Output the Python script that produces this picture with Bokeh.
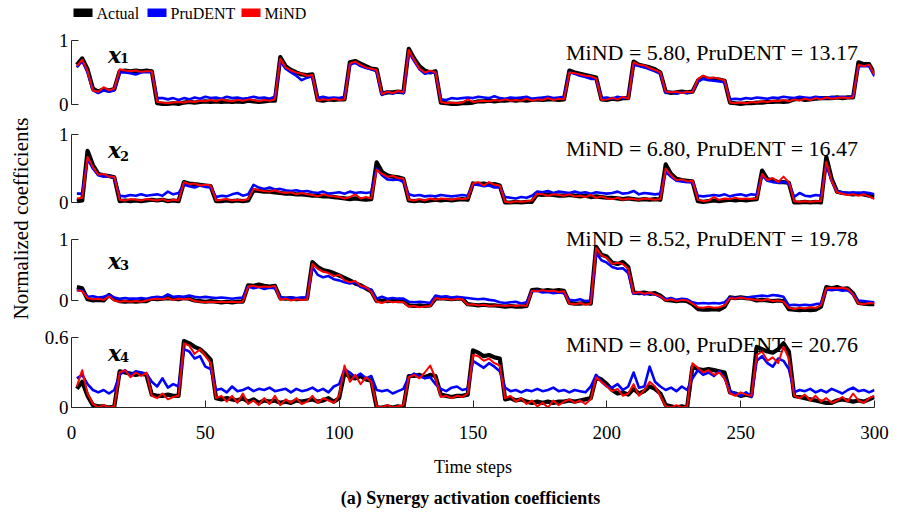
import math
from bokeh.plotting import figure
from bokeh.layouts import row, column
from bokeh.models import Range1d, FixedTicker, Label, BoxAnnotation, ColumnDataSource
from bokeh.embed import file_html
from bokeh.resources import INLINE

# ---------------- data ----------------
time_steps = list(range(2, 301, 2))

actual_1 = [0.62, 0.72, 0.55, 0.25, 0.20, 0.24, 0.22, 0.24, 0.52, 0.53,
            0.52, 0.53, 0.52, 0.53, 0.52, 0.02, 0.01, 0.01, 0.02, 0.01,
            0.03, 0.04, 0.03, 0.04, 0.05, 0.04, 0.05, 0.04, 0.05, 0.04,
            0.05, 0.04, 0.06, 0.05, 0.04, 0.05, 0.06, 0.06, 0.74, 0.60,
            0.54, 0.50, 0.47, 0.46, 0.47, 0.07, 0.06, 0.08, 0.07, 0.08,
            0.08, 0.66, 0.68, 0.64, 0.60, 0.56, 0.55, 0.17, 0.19, 0.19,
            0.20, 0.19, 0.87, 0.72, 0.60, 0.53, 0.50, 0.52, 0.03, 0.02,
            0.01, 0.01, 0.02, 0.02, 0.03, 0.05, 0.05, 0.06, 0.05, 0.06,
            0.06, 0.07, 0.06, 0.07, 0.06, 0.07, 0.08, 0.07, 0.08, 0.08,
            0.07, 0.08, 0.53, 0.50, 0.48, 0.46, 0.44, 0.42, 0.08, 0.07,
            0.09, 0.08, 0.10, 0.10, 0.67, 0.62, 0.60, 0.58, 0.55, 0.50,
            0.20, 0.18, 0.19, 0.20, 0.19, 0.20, 0.37, 0.43, 0.40, 0.40,
            0.39, 0.37, 0.03, 0.02, 0.01, 0.02, 0.02, 0.03, 0.03, 0.04,
            0.04, 0.05, 0.04, 0.05, 0.08, 0.09, 0.07, 0.08, 0.09, 0.10,
            0.10, 0.10, 0.11, 0.10, 0.11, 0.11, 0.66, 0.63, 0.63, 0.48]
prudent_1 = [0.58, 0.68, 0.50, 0.22, 0.18, 0.22, 0.20, 0.22, 0.50, 0.50,
             0.49, 0.47, 0.50, 0.51, 0.50, 0.10, 0.10, 0.08, 0.10, 0.07,
             0.10, 0.08, 0.11, 0.09, 0.12, 0.10, 0.11, 0.09, 0.12, 0.10,
             0.11, 0.09, 0.10, 0.12, 0.10, 0.11, 0.09, 0.12, 0.68, 0.56,
             0.50, 0.45, 0.38, 0.42, 0.44, 0.10, 0.12, 0.10, 0.11, 0.10,
             0.12, 0.62, 0.65, 0.60, 0.57, 0.55, 0.52, 0.15, 0.20, 0.17,
             0.20, 0.18, 0.82, 0.68, 0.55, 0.48, 0.50, 0.50, 0.08, 0.07,
             0.10, 0.09, 0.10, 0.11, 0.10, 0.12, 0.11, 0.10, 0.13, 0.10,
             0.09, 0.11, 0.10, 0.11, 0.12, 0.09, 0.10, 0.11, 0.12, 0.10,
             0.11, 0.12, 0.50, 0.48, 0.45, 0.43, 0.40, 0.40, 0.10, 0.11,
             0.09, 0.12, 0.10, 0.11, 0.62, 0.60, 0.58, 0.55, 0.52, 0.48,
             0.18, 0.20, 0.17, 0.19, 0.18, 0.20, 0.36, 0.40, 0.38, 0.37,
             0.36, 0.35, 0.08, 0.09, 0.08, 0.10, 0.09, 0.11, 0.10, 0.09,
             0.11, 0.10, 0.12, 0.11, 0.10, 0.12, 0.11, 0.10, 0.12, 0.11,
             0.10, 0.12, 0.11, 0.12, 0.11, 0.12, 0.60, 0.60, 0.60, 0.44]
mind_1 = [0.60, 0.70, 0.52, 0.22, 0.20, 0.27, 0.22, 0.25, 0.55, 0.53,
          0.52, 0.53, 0.51, 0.52, 0.52, 0.04, 0.03, 0.02, 0.03, 0.04,
          0.03, 0.05, 0.04, 0.06, 0.05, 0.07, 0.05, 0.08, 0.06, 0.05,
          0.07, 0.06, 0.08, 0.07, 0.05, 0.07, 0.06, 0.08, 0.72, 0.58,
          0.53, 0.50, 0.48, 0.45, 0.46, 0.06, 0.08, 0.07, 0.09, 0.07,
          0.08, 0.64, 0.67, 0.62, 0.58, 0.56, 0.54, 0.16, 0.20, 0.18,
          0.21, 0.19, 0.85, 0.70, 0.56, 0.50, 0.53, 0.50, 0.04, 0.02,
          0.03, 0.02, 0.03, 0.08, 0.04, 0.05, 0.06, 0.05, 0.07, 0.06,
          0.08, 0.06, 0.07, 0.06, 0.09, 0.06, 0.08, 0.07, 0.10, 0.07,
          0.09, 0.08, 0.50, 0.49, 0.47, 0.45, 0.44, 0.41, 0.07, 0.08,
          0.10, 0.08, 0.12, 0.09, 0.66, 0.62, 0.61, 0.57, 0.54, 0.50,
          0.20, 0.19, 0.20, 0.18, 0.20, 0.19, 0.40, 0.45, 0.41, 0.42,
          0.40, 0.38, 0.03, 0.02, 0.03, 0.02, 0.04, 0.03, 0.05, 0.04,
          0.06, 0.05, 0.07, 0.05, 0.08, 0.06, 0.09, 0.07, 0.10, 0.08,
          0.11, 0.09, 0.10, 0.11, 0.10, 0.11, 0.62, 0.60, 0.62, 0.46]

actual_2 = [0.02, 0.03, 0.76, 0.55, 0.42, 0.40, 0.39, 0.37, 0.02, 0.03,
            0.02, 0.03, 0.02, 0.03, 0.04, 0.03, 0.04, 0.02, 0.03, 0.02,
            0.30, 0.28, 0.27, 0.26, 0.25, 0.24, 0.02, 0.02, 0.03, 0.02,
            0.03, 0.02, 0.03, 0.18, 0.17, 0.16, 0.16, 0.15, 0.14, 0.13,
            0.13, 0.12, 0.12, 0.11, 0.10, 0.10, 0.09, 0.09, 0.08, 0.07,
            0.06, 0.05, 0.06, 0.05, 0.04, 0.05, 0.59, 0.45, 0.40, 0.38,
            0.37, 0.35, 0.03, 0.02, 0.03, 0.02, 0.03, 0.04, 0.03, 0.04,
            0.03, 0.04, 0.05, 0.04, 0.28, 0.27, 0.28, 0.26, 0.27, 0.25,
            0.00, 0.00, 0.01, 0.00, 0.01, 0.01, 0.12, 0.11, 0.12, 0.11,
            0.10, 0.10, 0.11, 0.10, 0.09, 0.10, 0.08, 0.09, 0.08, 0.07,
            0.07, 0.06, 0.05, 0.06, 0.05, 0.04, 0.05, 0.04, 0.05, 0.04,
            0.56, 0.42, 0.35, 0.33, 0.32, 0.31, 0.02, 0.01, 0.02, 0.03,
            0.02, 0.03, 0.04, 0.03, 0.04, 0.03, 0.04, 0.05, 0.47, 0.34,
            0.33, 0.30, 0.30, 0.29, 0.00, 0.00, 0.01, 0.00, 0.01, 0.00,
            0.67, 0.35, 0.16, 0.14, 0.13, 0.12, 0.13, 0.12, 0.10, 0.08]
prudent_2 = [0.13, 0.13, 0.64, 0.50, 0.40, 0.38, 0.39, 0.36, 0.10, 0.09,
             0.11, 0.10, 0.12, 0.10, 0.11, 0.12, 0.10, 0.16, 0.12, 0.14,
             0.26, 0.24, 0.22, 0.25, 0.23, 0.22, 0.08, 0.10, 0.09, 0.12,
             0.14, 0.10, 0.12, 0.26, 0.22, 0.20, 0.22, 0.19, 0.20, 0.18,
             0.17, 0.18, 0.16, 0.17, 0.15, 0.14, 0.16, 0.13, 0.14, 0.15,
             0.13, 0.16, 0.14, 0.15, 0.14, 0.15, 0.50, 0.40, 0.34, 0.33,
             0.34, 0.30, 0.12, 0.10, 0.11, 0.09, 0.10, 0.09, 0.11, 0.10,
             0.09, 0.10, 0.11, 0.10, 0.27, 0.26, 0.24, 0.25, 0.22, 0.22,
             0.08, 0.07, 0.06, 0.08, 0.07, 0.10, 0.16, 0.15, 0.17, 0.14,
             0.16, 0.15, 0.14, 0.16, 0.14, 0.15, 0.13, 0.15, 0.14, 0.13,
             0.14, 0.16, 0.13, 0.14, 0.17, 0.12, 0.14, 0.13, 0.12, 0.13,
             0.45, 0.38, 0.32, 0.31, 0.30, 0.30, 0.10, 0.09, 0.10, 0.11,
             0.10, 0.12, 0.09, 0.11, 0.12, 0.10, 0.12, 0.11, 0.40, 0.32,
             0.30, 0.29, 0.30, 0.28, 0.08, 0.14, 0.10, 0.09, 0.11, 0.10,
             0.55, 0.32, 0.16, 0.15, 0.14, 0.15, 0.14, 0.15, 0.14, 0.12]
mind_2 = [0.06, 0.07, 0.67, 0.52, 0.41, 0.42, 0.38, 0.38, 0.04, 0.03,
          0.05, 0.04, 0.03, 0.05, 0.04, 0.03, 0.05, 0.02, 0.04, 0.03,
          0.30, 0.27, 0.28, 0.25, 0.26, 0.25, 0.03, 0.04, 0.05, 0.03,
          0.04, 0.03, 0.05, 0.20, 0.18, 0.17, 0.16, 0.18, 0.15, 0.14,
          0.15, 0.12, 0.14, 0.12, 0.11, 0.09, 0.12, 0.10, 0.09, 0.08,
          0.06, 0.08, 0.12, 0.06, 0.08, 0.06, 0.48, 0.42, 0.38, 0.39,
          0.36, 0.35, 0.04, 0.03, 0.05, 0.03, 0.06, 0.04, 0.06, 0.05,
          0.04, 0.06, 0.05, 0.06, 0.28, 0.30, 0.25, 0.30, 0.26, 0.25,
          0.01, 0.00, 0.02, 0.01, 0.02, 0.03, 0.13, 0.12, 0.10, 0.12,
          0.11, 0.10, 0.12, 0.09, 0.10, 0.08, 0.11, 0.07, 0.09, 0.06,
          0.05, 0.07, 0.04, 0.06, 0.05, 0.04, 0.06, 0.05, 0.04, 0.05,
          0.50, 0.40, 0.33, 0.34, 0.31, 0.32, 0.04, 0.02, 0.03, 0.08,
          0.04, 0.06, 0.05, 0.07, 0.05, 0.06, 0.05, 0.06, 0.42, 0.33,
          0.36, 0.30, 0.38, 0.30, 0.02, 0.01, 0.02, 0.01, 0.02, 0.02,
          0.60, 0.32, 0.15, 0.13, 0.11, 0.12, 0.10, 0.12, 0.09, 0.05]

actual_3 = [0.22, 0.20, 0.02, 0.00, 0.01, 0.00, 0.09, 0.02, -0.01, -0.02,
            -0.01, -0.02, -0.01, -0.01, 0.03, 0.02, 0.03, 0.04, 0.03, 0.02,
            0.04, 0.03, 0.00, -0.01, -0.02, -0.01, -0.02, -0.03, -0.02, -0.03,
            -0.02, -0.02, 0.25, 0.24, 0.26, 0.24, 0.23, 0.24, 0.04, 0.03,
            0.04, 0.02, 0.03, 0.03, 0.63, 0.55, 0.50, 0.48, 0.45, 0.41,
            0.37, 0.33, 0.28, 0.25, 0.20, 0.15, -0.01, 0.00, -0.01, 0.00,
            -0.01, -0.01, -0.08, -0.09, -0.08, -0.09, -0.08, 0.03, 0.04, 0.03,
            0.02, 0.03, 0.03, -0.06, -0.07, -0.08, -0.07, -0.08, -0.08, -0.09,
            -0.10, -0.09, -0.10, -0.10, -0.09, 0.17, 0.18, 0.16, 0.17, 0.16,
            0.17, 0.16, -0.04, -0.05, -0.05, -0.04, -0.05, 0.88, 0.75, 0.72,
            0.62, 0.60, 0.63, 0.55, 0.13, 0.12, 0.13, 0.11, 0.12, 0.08,
            0.01, 0.00, -0.01, 0.00, -0.01, -0.06, -0.14, -0.15, -0.15, -0.14,
            -0.15, -0.10, 0.05, 0.04, 0.05, 0.04, 0.03, 0.00, 0.01, 0.00,
            -0.01, 0.00, -0.01, -0.14, -0.15, -0.16, -0.15, -0.16, -0.15, -0.10,
            0.22, 0.20, 0.22, 0.19, 0.20, 0.12, -0.04, -0.05, -0.06, -0.06]
prudent_3 = [0.17, 0.16, 0.06, 0.07, 0.05, 0.06, 0.09, 0.05, 0.03, 0.04,
             0.03, 0.03, 0.04, 0.03, 0.05, 0.06, 0.05, 0.10, 0.06, 0.07,
             0.06, 0.08, 0.06, 0.05, 0.06, 0.05, 0.04, 0.05, 0.04, 0.03,
             0.04, 0.05, 0.23, 0.20, 0.22, 0.19, 0.21, 0.20, 0.05, 0.04,
             0.05, 0.04, 0.05, 0.05, 0.55, 0.42, 0.38, 0.40, 0.35, 0.33,
             0.30, 0.28, 0.30, 0.22, 0.20, 0.18, 0.03, 0.06, 0.03, 0.04,
             0.03, 0.03, -0.02, -0.03, -0.02, -0.03, -0.04, 0.08, 0.06, 0.07,
             0.05, 0.06, 0.05, 0.04, 0.03, 0.02, 0.03, 0.01, 0.00, -0.03,
             -0.04, -0.03, -0.02, -0.05, -0.03, 0.15, 0.16, 0.13, 0.14, 0.12,
             0.13, 0.12, 0.01, 0.00, 0.02, -0.01, 0.00, 0.78, 0.66, 0.62,
             0.55, 0.52, 0.53, 0.45, 0.11, 0.13, 0.10, 0.12, 0.10, 0.06,
             0.02, 0.04, 0.01, 0.03, 0.02, -0.03, -0.05, -0.04, -0.05, -0.04,
             -0.05, -0.03, 0.05, 0.04, 0.05, 0.04, 0.06, 0.07, 0.08, 0.07,
             0.09, 0.08, 0.06, -0.08, -0.07, -0.08, -0.07, -0.08, -0.06, -0.05,
             0.18, 0.17, 0.18, 0.16, 0.17, 0.10, 0.00, -0.01, -0.02, -0.03]
mind_3 = [0.17, 0.15, 0.04, 0.02, 0.03, 0.01, 0.07, 0.00, -0.02, -0.01,
          -0.02, -0.01, -0.02, 0.00, 0.02, 0.03, 0.02, 0.04, 0.01, 0.03,
          0.02, 0.03, -0.01, -0.02, -0.03, -0.02, -0.03, -0.02, -0.03, -0.02,
          -0.03, -0.02, 0.23, 0.24, 0.22, 0.23, 0.22, 0.24, 0.01, 0.03,
          0.00, 0.02, 0.01, 0.02, 0.60, 0.52, 0.47, 0.45, 0.40, 0.42,
          0.33, 0.30, 0.32, 0.24, 0.22, 0.14, -0.02, -0.04, -0.01, -0.03,
          -0.02, -0.03, -0.10, -0.09, -0.11, -0.10, -0.09, 0.04, 0.02, 0.03,
          0.01, 0.03, 0.02, -0.07, -0.06, -0.08, -0.07, -0.09, -0.08, -0.08,
          -0.09, -0.08, -0.09, -0.08, -0.09, 0.16, 0.15, 0.17, 0.15, 0.16,
          0.14, 0.15, -0.05, -0.06, -0.04, -0.07, -0.05, 0.86, 0.74, 0.70,
          0.60, 0.62, 0.60, 0.52, 0.12, 0.14, 0.11, 0.13, 0.10, 0.07,
          0.00, 0.02, -0.01, 0.01, 0.00, -0.05, -0.11, -0.12, -0.10, -0.12,
          -0.11, -0.08, 0.04, 0.03, 0.05, 0.03, 0.02, 0.01, 0.00, 0.02,
          -0.01, 0.00, -0.02, -0.12, -0.14, -0.12, -0.13, -0.11, -0.12, -0.08,
          0.20, 0.21, 0.20, 0.21, 0.19, 0.10, -0.05, -0.06, -0.04, -0.05]

actual_4 = [0.16, 0.22, 0.10, 0.02, 0.01, 0.01, 0.00, 0.01, 0.31, 0.30,
            0.29, 0.28, 0.29, 0.28, 0.11, 0.10, 0.10, 0.11, 0.10, 0.10,
            0.57, 0.55, 0.52, 0.50, 0.46, 0.41, 0.08, 0.07, 0.08, 0.07,
            0.06, 0.08, 0.05, 0.07, 0.04, 0.06, 0.05, 0.06, 0.04, 0.05,
            0.04, 0.06, 0.05, 0.06, 0.07, 0.05, 0.06, 0.08, 0.05, 0.08,
            0.30, 0.26, 0.25, 0.27, 0.24, 0.23, 0.00, 0.00, 0.01, 0.00,
            0.01, 0.00, 0.27, 0.27, 0.28, 0.26, 0.28, 0.27, 0.11, 0.10,
            0.09, 0.10, 0.10, 0.11, 0.49, 0.47, 0.44, 0.45, 0.43, 0.42,
            0.07, 0.08, 0.06, 0.07, 0.05, 0.04, 0.05, 0.04, 0.05, 0.04,
            0.05, 0.05, 0.06, 0.05, 0.06, 0.07, 0.08, 0.26, 0.24, 0.20,
            0.15, 0.12, 0.13, 0.11, 0.16, 0.12, 0.14, 0.18, 0.16, 0.12,
            0.02, 0.01, 0.00, 0.01, 0.00, 0.35, 0.33, 0.32, 0.33, 0.32,
            0.31, 0.30, 0.13, 0.12, 0.10, 0.11, 0.10, 0.52, 0.50, 0.48,
            0.47, 0.50, 0.55, 0.48, 0.10, 0.09, 0.08, 0.07, 0.06, 0.05,
            0.04, 0.04, 0.06, 0.07, 0.06, 0.05, 0.06, 0.05, 0.07, 0.09]
prudent_4 = [0.25, 0.28, 0.20, 0.15, 0.13, 0.15, 0.12, 0.15, 0.28, 0.32,
             0.28, 0.31, 0.30, 0.29, 0.22, 0.18, 0.25, 0.17, 0.20, 0.18,
             0.50, 0.48, 0.42, 0.44, 0.35, 0.33, 0.15, 0.16, 0.13, 0.18,
             0.14, 0.15, 0.17, 0.14, 0.16, 0.15, 0.17, 0.14, 0.15, 0.16,
             0.13, 0.16, 0.14, 0.15, 0.17, 0.14, 0.16, 0.13, 0.18, 0.20,
             0.33, 0.30, 0.26, 0.29, 0.25, 0.27, 0.15, 0.14, 0.15, 0.12,
             0.14, 0.16, 0.26, 0.29, 0.27, 0.25, 0.26, 0.20, 0.16, 0.14,
             0.17, 0.18, 0.15, 0.16, 0.40, 0.37, 0.34, 0.38, 0.35, 0.31,
             0.17, 0.14, 0.15, 0.13, 0.15, 0.14, 0.16, 0.14, 0.15, 0.17,
             0.14, 0.15, 0.13, 0.15, 0.14, 0.13, 0.18, 0.28, 0.22, 0.18,
             0.17, 0.20, 0.15, 0.18, 0.30, 0.17, 0.18, 0.35, 0.22, 0.18,
             0.15, 0.17, 0.14, 0.18, 0.15, 0.25, 0.32, 0.28, 0.30, 0.27,
             0.31, 0.25, 0.14, 0.12, 0.10, 0.13, 0.09, 0.40, 0.44, 0.38,
             0.35, 0.42, 0.40, 0.33, 0.13, 0.15, 0.14, 0.16, 0.13, 0.15,
             0.13, 0.16, 0.14, 0.12, 0.15, 0.17, 0.14, 0.15, 0.13, 0.15]
mind_4 = [0.18, 0.32, 0.12, 0.03, 0.00, 0.02, 0.00, 0.01, 0.30, 0.32,
          0.26, 0.30, 0.27, 0.30, 0.10, 0.08, 0.12, 0.07, 0.09, 0.10,
          0.55, 0.53, 0.46, 0.50, 0.44, 0.38, 0.08, 0.10, 0.05, 0.10,
          0.04, 0.12, 0.03, 0.06, 0.02, 0.08, 0.03, 0.10, 0.02, 0.07,
          0.04, 0.08, 0.03, 0.05, 0.10, 0.04, 0.08, 0.06, 0.04, 0.10,
          0.36, 0.22, 0.28, 0.20, 0.26, 0.22, 0.01, 0.00, 0.02, 0.00,
          0.01, 0.02, 0.26, 0.28, 0.25, 0.30, 0.36, 0.25, 0.09, 0.10,
          0.08, 0.10, 0.09, 0.12, 0.45, 0.44, 0.40, 0.42, 0.38, 0.36,
          0.08, 0.10, 0.05, 0.08, 0.03, 0.06, 0.01, 0.04, 0.00, 0.06,
          0.02, 0.05, 0.07, 0.04, 0.06, 0.03, 0.07, 0.26, 0.22, 0.18,
          0.14, 0.16, 0.10, 0.12, 0.20, 0.10, 0.15, 0.22, 0.18, 0.10,
          0.01, 0.00, 0.02, 0.00, 0.01, 0.38, 0.34, 0.30, 0.32, 0.28,
          0.30, 0.25, 0.12, 0.10, 0.13, 0.11, 0.10, 0.45, 0.48, 0.40,
          0.43, 0.38, 0.52, 0.42, 0.10, 0.08, 0.11, 0.06, 0.10, 0.05,
          0.08, 0.04, 0.06, 0.09, 0.05, 0.12, 0.06, 0.04, 0.08, 0.10]

scores = ["MiND = 5.80, PruDENT = 13.17",
          "MiND = 6.80, PruDENT = 16.47",
          "MiND = 8.52, PruDENT = 19.78",
          "MiND = 8.00, PruDENT = 20.76"]
series_names = ["Actual", "PruDENT", "MiND"]
series_colors = ["#000000", "#0000FF", "#FF0000"]
series_widths = [4.2, 2.6, 2.0]
x_ticks = [0, 50, 100, 150, 200, 250, 300]

FONT = "Liberation Serif"
AX = "#262626"

# ---------------- layout constants ----------------
LEFT_W = 36
COL_W = 865
MB_LEFT = 35
MB_RIGHT = 27
FRAME_L = LEFT_W + MB_LEFT          # page x of frame left
FRAME_R = LEFT_W + COL_W - MB_RIGHT # page x of frame right

panels = [
    dict(act=actual_1, pru=prudent_1, mind=mind_1, yr=(-0.0625, 1.03125), top=1.0,
         mbt=10, fh=70, mbb=12, sub="1", lab_y=0.78, sub_y=0.72, txt_y=0.81),
    dict(act=actual_2, pru=prudent_2, mind=mind_2, yr=(-0.0588, 1.0294), top=1.0,
         mbt=12, fh=74, mbb=14, sub="2", lab_y=0.765, sub_y=0.69, txt_y=0.79),
    dict(act=actual_3, pru=prudent_3, mind=mind_3, yr=(-0.2131, 1.2131), top=1.0,
         mbt=6, fh=87, mbb=12, sub="3", lab_y=0.655, sub_y=0.575, txt_y=1.01),
    dict(act=actual_4, pru=prudent_4, mind=mind_4, yr=(0.0, 0.61714), top=0.6,
         mbt=10, fh=72, mbb=73, sub="4", lab_y=0.47, sub_y=0.43, txt_y=0.54),
]

figs = []
for k, pc in enumerate(panels):
    last = (k == len(panels) - 1)
    h = pc["mbt"] + pc["fh"] + pc["mbb"]
    p = figure(width=COL_W, height=h, output_backend="svg", toolbar_location=None,
               x_range=Range1d(0, 300), y_range=Range1d(*pc["yr"]),
               x_axis_type="linear" if last else None,
               min_border_left=MB_LEFT, min_border_right=MB_RIGHT,
               min_border_top=pc["mbt"], min_border_bottom=pc["mbb"],
               outline_line_color=None, background_fill_color="white",
               border_fill_color="white")
    p.grid.visible = False
    src = ColumnDataSource(dict(t=time_steps, act=pc["act"], pru=pc["pru"], mind=pc["mind"]))
    for col, c, w, nm in zip(["act", "pru", "mind"], series_colors, series_widths, series_names):
        p.line("t", col, source=src, line_color=c, line_width=w, line_join="round", name=nm)

    ya = p.yaxis[0]
    ya.ticker = FixedTicker(ticks=[0, pc["top"]])
    ya.bounds = (0, pc["top"])
    ya.major_label_overrides = {0: "0", pc["top"]: ("1" if pc["top"] == 1.0 else "0.6")}
    ya.major_tick_in = 7
    ya.major_tick_out = 0
    ya.minor_tick_line_color = None
    ya.axis_line_color = AX
    ya.major_tick_line_color = AX
    ya.major_label_text_font = FONT
    ya.major_label_text_font_size = "19px"
    ya.major_label_text_color = "#000000"
    ya.major_label_standoff = 3

    if last:
        xa = p.xaxis[0]
        xa.ticker = FixedTicker(ticks=x_ticks)
        xa.major_tick_in = 7
        xa.major_tick_out = 0
        xa.minor_tick_line_color = None
        xa.axis_line_color = AX
        xa.major_tick_line_color = AX
        xa.major_label_text_font = FONT
        xa.major_label_text_font_size = "19px"
        xa.major_label_text_color = "#000000"
        xa.major_label_standoff = 18
        xa.axis_label = "Time steps"
        xa.axis_label_text_font = FONT
        xa.axis_label_text_font_size = "18px"
        xa.axis_label_text_font_style = "normal"
        xa.axis_label_text_color = "#000000"
        xa.axis_label_standoff = 15

    p.add_layout(Label(x=294, y=pc["txt_y"], text=scores[k], text_align="right",
                       text_baseline="middle", text_font=FONT, text_font_size="22px",
                       text_color="#000000"))
    p.add_layout(Label(x=16.1, y=pc["lab_y"], text="x", text_align="center",
                       text_baseline="middle", text_font="DejaVu Serif",
                       text_font_style="bold italic", text_font_size="22px",
                       text_color="#000000"))
    p.add_layout(Label(x=19.8, y=pc["sub_y"], text=pc["sub"], text_align="center",
                       text_baseline="middle", text_font="DejaVu Serif",
                       text_font_style="bold", text_font_size="13px",
                       text_color="#000000"))
    figs.append(p)


def strip(height):
    # blank strip whose frame is aligned with the panels' frames; coordinates = page pixels
    s = figure(width=COL_W, height=height, output_backend="svg", toolbar_location=None,
               x_axis_type=None, y_axis_type=None,
               min_border_left=MB_LEFT, min_border_right=MB_RIGHT,
               min_border_top=0, min_border_bottom=0,
               x_range=Range1d(FRAME_L, FRAME_R), y_range=Range1d(0, height),
               outline_line_color=None)
    s.grid.visible = False
    return s


# ---------------- legend strip (key drawn as annotations) ----------------
leg = strip(28)
key_left = [73, 147, 241]      # swatch left edges (page px)
for name, c, kx in zip(series_names, series_colors, key_left):
    leg.add_layout(BoxAnnotation(left=kx, right=kx + 19, bottom=11.5, top=20,
                                 fill_color=c, fill_alpha=1.0, line_color=None))
    leg.add_layout(Label(x=kx + 23, y=15.5, text=name, text_align="left",
                         text_baseline="middle", text_font=FONT, text_font_size="16px",
                         text_color="#000000"))

# ---------------- caption strip ----------------
cap = strip(36)
cap.add_layout(Label(x=470, y=19, text="(a) Synergy activation coefficients",
                     text_align="center", text_baseline="middle", text_font=FONT,
                     text_font_style="bold", text_font_size="18px", text_color="#000000"))

# ---------------- y label strip ----------------
ylab = figure(width=LEFT_W, height=516, output_backend="svg", toolbar_location=None,
              x_axis_type=None, y_axis_type=None, min_border=0,
              x_range=Range1d(0, LEFT_W), y_range=Range1d(0, 516), outline_line_color=None)
ylab.grid.visible = False
ylab.add_layout(Label(x=20, y=298, text="Normalized coefficients", angle=math.pi / 2,
                      text_align="center", text_baseline="middle", text_font=FONT,
                      text_font_size="21px", text_color="#000000"))

layout = row(ylab, column(leg, *figs, cap, spacing=0), spacing=0)

open("out.html", "w").write(file_html(layout, INLINE))
